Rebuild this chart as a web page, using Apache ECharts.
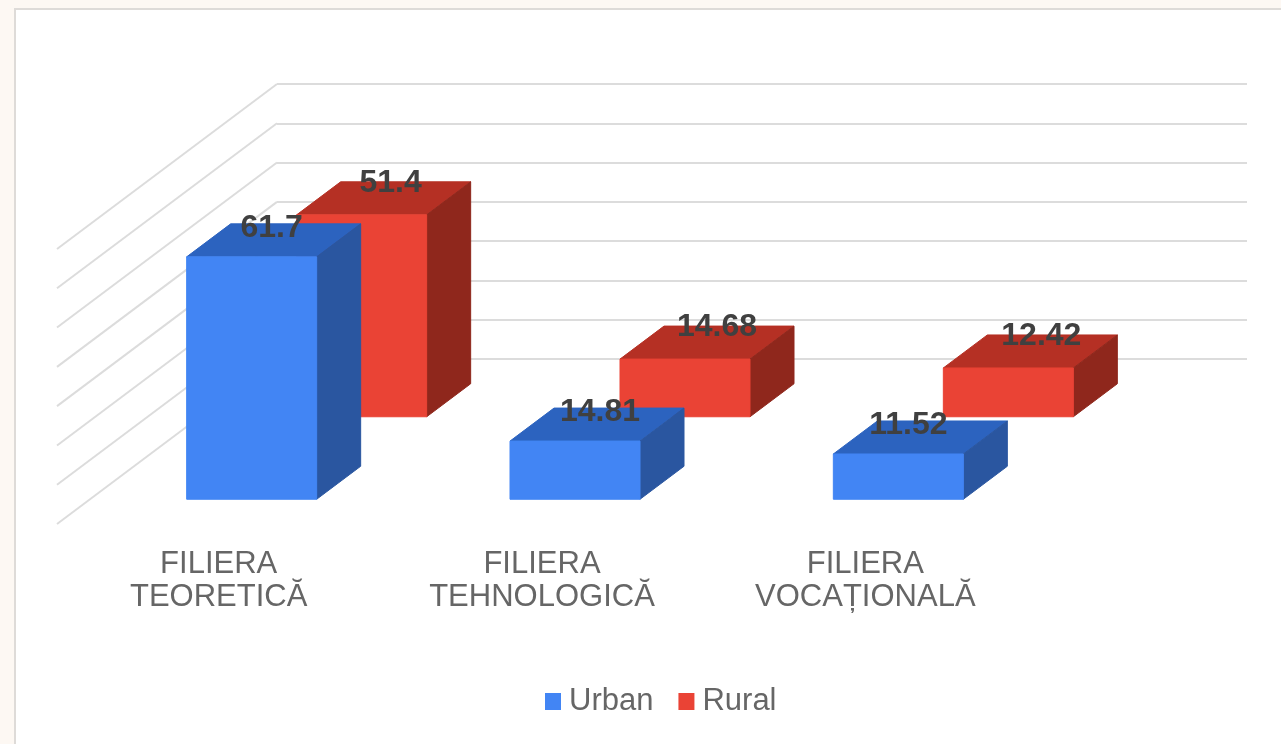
<!DOCTYPE html>
<html>
<head>
<meta charset="utf-8">
<title>Filiere</title>
<script src="https://cdn.jsdelivr.net/npm/echarts@6/dist/echarts.min.js"></script>
<style>
  html, body { margin: 0; padding: 0; background: #fdf8f3; overflow: hidden; }
  #panel { position: absolute; left: 14px; top: 8px; width: 1280px; height: 750px; background: #fff; border: 2px solid #dedbd8; box-sizing: border-box; }
  #main { position: absolute; left: 0; top: 0; width: 1281px; height: 744px; }
</style>
</head>
<body>
<div id="panel"></div>
<div id="main"></div>
<script>
const categories = ['FILIERA\nTEORETICĂ', 'FILIERA\nTEHNOLOGICĂ', 'FILIERA\nVOCAȚIONALĂ'];
const urban = [61.7, 14.81, 11.52];
const rural = [51.4, 14.68, 12.42];
const wallTicks = [0, 10, 20, 30, 40, 50, 60, 70];

// fake 3d: everything is pushed along the floor diagonal
const SLOPE = 0.75;
const BAR_W = 130;
const BAR_DEPTH = 44;
const WALL_DEPTH = 220;
const FONT = '"Liberation Sans", Arial, sans-serif';

const chart = echarts.init(document.getElementById('main'));

// draws one box, floorShift = how far the front face sits from the front of the floor
function boxRenderer(colors, floorShift, labelDx, labelDy) {
  return function (params, api) {
    const i = api.value(0);
    const top = api.coord([i, api.value(1)]);
    const base = api.coord([i, 0]);
    const x0 = top[0] + floorShift - BAR_W / 2;
    const x1 = x0 + BAR_W;
    const yTop = top[1] - floorShift * SLOPE;
    const yBase = base[1] - floorShift * SLOPE;
    const dx = BAR_DEPTH;
    const dy = BAR_DEPTH * SLOPE;
    return {
      type: 'group',
      children: [
        { type: 'polygon', shape: { points: [[x0, yTop], [x1, yTop], [x1 + dx, yTop - dy], [x0 + dx, yTop - dy]] }, style: { fill: colors.top, stroke: colors.top, lineWidth: 1 } },
        { type: 'polygon', shape: { points: [[x1, yTop], [x1 + dx, yTop - dy], [x1 + dx, yBase - dy], [x1, yBase]] }, style: { fill: colors.side, stroke: colors.side, lineWidth: 1 } },
        { type: 'rect', shape: { x: x0, y: yTop, width: BAR_W, height: yBase - yTop }, style: { fill: colors.front, stroke: colors.front, lineWidth: 1 } },
        {
          type: 'text',
          z2: 10,
          style: {
            x: (x0 + x1) / 2 + labelDx[i],
            y: yTop + labelDy,
            text: String(api.value(1)),
            fill: '#404040',
            font: 'bold 32px ' + FONT,
            align: 'center',
            verticalAlign: 'middle'
          }
        }
      ]
    };
  };
}

function wallRenderer(params, api) {
  const p = api.coord([0, api.value(0)]);
  const x = p[0] - api.size([1, 0])[0] / 2;
  return {
    type: 'line',
    shape: { x1: x, y1: p[1], x2: x + WALL_DEPTH, y2: p[1] - WALL_DEPTH * SLOPE },
    style: { stroke: '#dcdcdc', lineWidth: 2 }
  };
}

chart.setOption({
  animation: false,
  backgroundColor: 'transparent',
  textStyle: { fontFamily: FONT },
  grid: [
    { left: 57, top: 249, width: 970, height: 275 },   // front of the floor
    { left: 277, top: 84, width: 970, height: 275 }    // back wall
  ],
  xAxis: [
    {
      type: 'category', gridIndex: 0, data: categories,
      axisLine: { show: false }, axisTick: { show: false },
      axisLabel: { margin: 24, color: '#666', fontSize: 31, lineHeight: 33, interval: 0, fontFamily: FONT }
    },
    { type: 'category', gridIndex: 1, data: categories, show: false }
  ],
  yAxis: [
    { type: 'value', gridIndex: 0, min: 0, max: 70, interval: 10, show: false },
    {
      type: 'value', gridIndex: 1, min: 0, max: 70, interval: 10,
      axisLine: { show: false }, axisTick: { show: false }, axisLabel: { show: false },
      splitLine: { lineStyle: { color: '#dcdcdc', width: 2 } }
    }
  ],
  legend: {
    data: ['Urban', 'Rural'],
    left: 545, top: 686,
    icon: 'rect', itemWidth: 16, itemHeight: 17, itemGap: 25,
    textStyle: { color: '#666', fontSize: 31, fontFamily: FONT, padding: [0, 0, 0, 3] },
    padding: 0
  },
  series: [
    {
      type: 'custom', name: 'wall', silent: true, z: 1,
      xAxisIndex: 0, yAxisIndex: 0,
      data: wallTicks.map(v => [v]),
      renderItem: wallRenderer
    },
    {
      type: 'custom', name: 'Rural', z: 2,
      xAxisIndex: 0, yAxisIndex: 0,
      itemStyle: { color: '#ea4335' },
      data: rural.map((v, i) => [i, v]),
      renderItem: boxRenderer({ front: '#ea4335', top: '#b53024', side: '#8f271c' }, 143, [29, 32, 33], -32)
    },
    {
      type: 'custom', name: 'Urban', z: 3,
      xAxisIndex: 0, yAxisIndex: 0,
      itemStyle: { color: '#4285f4' },
      data: urban.map((v, i) => [i, v]),
      renderItem: boxRenderer({ front: '#4285f4', top: '#2c63bf', side: '#2a56a0' }, 33, [20, 25, 10], -29)
    }
  ]
});
</script>
</body>
</html>
